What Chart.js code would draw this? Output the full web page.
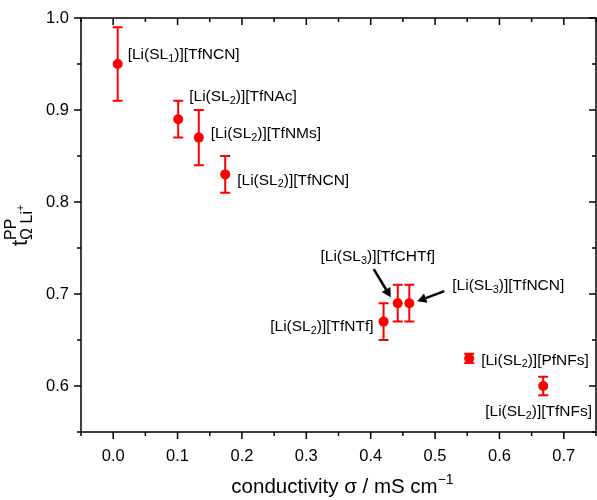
<!DOCTYPE html>
<html>
<head>
<meta charset="utf-8">
<script src="https://cdn.jsdelivr.net/npm/chart.js@4"></script>
<style>
  html, body { margin: 0; padding: 0; background: #fff; }
  #wrap { width: 597px; height: 500px; }
</style>
</head>
<body>
<div id="wrap"><canvas id="chart" width="597" height="500"></canvas></div>
<script>
// salts, "_n" marks a subscript digit
const names = [
  '[Li(SL_1)][TfNCN]', '[Li(SL_2)][TfNAc]', '[Li(SL_2)][TfNMs]', '[Li(SL_2)][TfNCN]',
  '[Li(SL_2)][TfNTf]', '[Li(SL_3)][TfCHTf]', '[Li(SL_3)][TfNCN]', '[Li(SL_2)][PfNFs]',
  '[Li(SL_2)][TfNFs]'
];
const conductivity = [0.007, 0.101, 0.133, 0.174, 0.420, 0.442, 0.460, 0.553, 0.668];
const transference = [0.95, 0.89, 0.87, 0.83, 0.67, 0.69, 0.69, 0.63, 0.60];
const errLow  = [0.91, 0.87, 0.84, 0.81, 0.65, 0.67, 0.67, 0.625, 0.59];
const errHigh = [0.99, 0.91, 0.90, 0.85, 0.69, 0.71, 0.71, 0.635, 0.61];

// label placement relative to its point: dx, dy (px), text alignment
const labelPos = [
  [10, -9, 'left'], [11, -22, 'left'], [12, -4, 'left'], [12, 6, 'left'],
  [-10, 5, 'right'], [-20, -46, 'center'], [43, -17, 'left'], [12, 2, 'left'],
  [-58, 26, 'left']
];
// arrows: point index, tail offset, head offset
const arrows = [
  [5, [-24, -34], [-7, -6]],
  [6, [35, -12], [8, -2]]
];

const FONT = '"Liberation Sans", Arial, sans-serif';
const RED = '#ff0000';

function drawRich(ctx, text, x, y, size, align) {
  const parts = text.split(/_(\d)/);
  const subSize = size * 0.7;
  let w = 0;
  parts.forEach((p, i) => {
    ctx.font = (i % 2 ? subSize : size) + 'px ' + FONT;
    w += ctx.measureText(p).width;
  });
  let cx = align === 'right' ? x - w : align === 'center' ? x - w / 2 : x;
  ctx.textAlign = 'left';
  ctx.textBaseline = 'middle';
  parts.forEach((p, i) => {
    const sub = i % 2 === 1;
    ctx.font = (sub ? subSize : size) + 'px ' + FONT;
    ctx.fillText(p, cx, sub ? y + 4 : y);
    cx += ctx.measureText(p).width;
  });
}

const decorations = {
  id: 'decorations',
  beforeDatasetsDraw(chart) {
    const ctx = chart.ctx;
    const xs = chart.scales.x, ys = chart.scales.y;
    ctx.save();
    ctx.strokeStyle = RED;
    ctx.lineWidth = 2;
    conductivity.forEach((cx, i) => {
      const px = xs.getPixelForValue(cx);
      const lo = ys.getPixelForValue(errLow[i]);
      const hi = ys.getPixelForValue(errHigh[i]);
      ctx.beginPath();
      ctx.moveTo(px, lo); ctx.lineTo(px, hi);
      ctx.moveTo(px - 5, lo); ctx.lineTo(px + 5, lo);
      ctx.moveTo(px - 5, hi); ctx.lineTo(px + 5, hi);
      ctx.stroke();
    });
    ctx.restore();
  },
  afterDraw(chart) {
    const ctx = chart.ctx;
    const a = chart.chartArea;
    const xs = chart.scales.x, ys = chart.scales.y;
    ctx.save();
    // frame
    ctx.strokeStyle = '#000';
    ctx.lineWidth = 1.5;
    ctx.strokeRect(a.left, a.top, a.right - a.left, a.bottom - a.top);
    // tick marks: out on bottom/left, in on top/right
    ctx.beginPath();
    xs.ticks.forEach(t => {
      const px = xs.getPixelForValue(t.value);
      const major = Math.round(t.value * 100) % 10 === 0;
      const len = major ? 7 : 4;
      ctx.moveTo(px, a.bottom); ctx.lineTo(px, a.bottom + len);
      ctx.moveTo(px, a.top); ctx.lineTo(px, a.top + len);
    });
    ys.ticks.forEach(t => {
      const py = ys.getPixelForValue(t.value);
      const major = Math.round(t.value * 100) % 10 === 0;
      const len = major ? 7 : 4;
      ctx.moveTo(a.left, py); ctx.lineTo(a.left - len, py);
      ctx.moveTo(a.right, py); ctx.lineTo(a.right - len, py);
    });
    ctx.stroke();

    // point labels
    ctx.fillStyle = '#000';
    names.forEach((n, i) => {
      const px = xs.getPixelForValue(conductivity[i]);
      const py = ys.getPixelForValue(transference[i]);
      const [dx, dy, al] = labelPos[i];
      drawRich(ctx, n, px + dx, py + dy, 15.5, al);
    });

    // arrows
    ctx.strokeStyle = '#000';
    ctx.fillStyle = '#000';
    ctx.lineWidth = 2.5;
    arrows.forEach(([i, tail, head]) => {
      const px = xs.getPixelForValue(conductivity[i]);
      const py = ys.getPixelForValue(transference[i]);
      const x0 = px + tail[0], y0 = py + tail[1];
      const x1 = px + head[0], y1 = py + head[1];
      const ang = Math.atan2(y1 - y0, x1 - x0);
      const hl = 9, hw = 5;
      const bx = x1 - hl * Math.cos(ang), by = y1 - hl * Math.sin(ang);
      ctx.beginPath();
      ctx.moveTo(x0, y0); ctx.lineTo(bx, by);
      ctx.stroke();
      ctx.beginPath();
      ctx.moveTo(x1, y1);
      ctx.lineTo(bx + hw * Math.sin(ang), by - hw * Math.cos(ang));
      ctx.lineTo(bx - hw * Math.sin(ang), by + hw * Math.cos(ang));
      ctx.closePath();
      ctx.fill();
    });

    // x axis title
    ctx.fillStyle = '#000';
    ctx.textBaseline = 'alphabetic';
    ctx.textAlign = 'left';
    const xt = 'conductivity σ / mS cm', sup = '−1';
    ctx.font = '20.5px ' + FONT;
    const w1 = ctx.measureText(xt).width;
    ctx.font = '14px ' + FONT;
    const w2 = ctx.measureText(sup).width;
    const sx = (a.left + a.right) / 2 - (w1 + w2) / 2 + 4;
    ctx.font = '20.5px ' + FONT;
    ctx.fillText(xt, sx, 493);
    ctx.font = '14px ' + FONT;
    ctx.fillText(sup, sx + w1, 484);

    // y axis title: t with superscript PP and subscript Ω Li+
    ctx.translate(27, 246);
    ctx.rotate(-Math.PI / 2);
    ctx.font = '22px ' + FONT;
    ctx.fillText('t', 0, 0);
    const tw = ctx.measureText('t').width;
    ctx.font = '16px ' + FONT;
    ctx.fillText('PP', tw, -11);
    ctx.fillText('Ω Li', tw, 5);
    const lw = ctx.measureText('Ω Li').width;
    ctx.font = '11px ' + FONT;
    ctx.fillText('+', tw + lw, -3);
    ctx.restore();
  }
};

new Chart(document.getElementById('chart'), {
  type: 'scatter',
  data: {
    datasets: [{
      data: conductivity.map((x, i) => ({ x: x, y: transference[i] })),
      backgroundColor: RED,
      borderWidth: 0,
      pointRadius: 5
    }]
  },
  options: {
    responsive: false,
    animation: false,
    layout: { autoPadding: false, padding: { top: 18, right: 1, left: 0, bottom: 0 } },
    plugins: { legend: { display: false }, tooltip: { enabled: false } },
    scales: {
      x: {
        type: 'linear',
        min: -0.05,
        max: 0.75,
        afterFit: s => { s.height = 68; s.paddingLeft = 0; s.paddingRight = 0; },
        grid: { display: false, drawTicks: false },
        border: { display: false },
        ticks: {
          stepSize: 0.05,
          autoSkip: false,
          maxRotation: 0,
          padding: 15,
          color: '#000',
          font: { family: FONT, size: 16.5 },
          callback: v => Math.round(v * 100) % 10 === 0 ? v.toFixed(1) : ''
        }
      },
      y: {
        type: 'linear',
        min: 0.55,
        max: 1.0,
        afterFit: s => { s.width = 81; s.paddingTop = 0; s.paddingBottom = 0; },
        grid: { display: false, drawTicks: false },
        border: { display: false },
        ticks: {
          stepSize: 0.05,
          autoSkip: false,
          padding: 12,
          color: '#000',
          font: { family: FONT, size: 16.5 },
          callback: v => Math.round(v * 100) % 10 === 0 ? v.toFixed(1) : ''
        }
      }
    }
  },
  plugins: [decorations]
});
</script>
</body>
</html>
